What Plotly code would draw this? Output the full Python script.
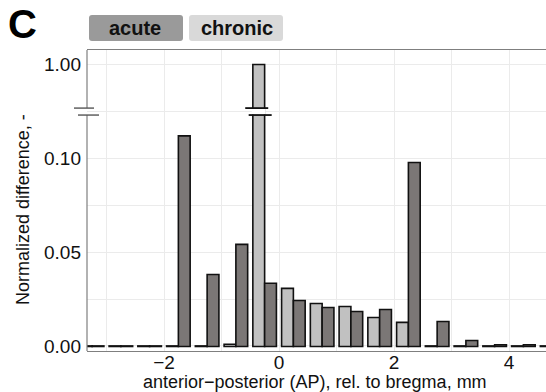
import plotly.graph_objects as go

# ---------------- data ----------------
ap_positions = [-3.25, -2.75, -2.25, -1.75, -1.25, -0.75, -0.25, 0.25, 0.75,
                1.25, 1.75, 2.25, 2.75, 3.25, 3.75, 4.25, 4.75]
acute_values = [0.0, 0.0, 0.0, 0.112, 0.0383, 0.0543, 0.0336, 0.0245, 0.0207,
                0.0186, 0.0197, 0.0979, 0.0133, 0.0032, 0.0009, 0.0009, 0.0]
chronic_values = [0.0, 0.0, 0.0, 0.0, 0.0, 0.0012, 1.00, 0.0309, 0.0229,
                  0.0213, 0.0154, 0.0128, 0.0, 0.0, 0.0, 0.0, 0.0]
series_names = ["acute", "chronic"]
x_tick_vals = [-2, 0, 2, 4]
x_minor_vals = [-3, -1, 1, 3]
y_tick_vals = [0.0, 0.05, 0.10, 1.00]
y_tick_text = ["0.00", "0.05", "0.10", "1.00"]

# ---------------- broken-axis mapping ----------------
BREAK_AT = 0.125          # display position of the axis break
UPPER_VALUE = 1.00        # value shown above the break
UPPER_POS = 0.15          # display position of that value
UPPER_SCALE = 0.1
MIN_VISIBLE = 0.0003      # zero bars still drawn as a flat outline


def to_display(v):
    if v <= BREAK_AT:
        return max(v, MIN_VISIBLE)
    return UPPER_POS + (v - UPPER_VALUE) * UPPER_SCALE


acute_disp = [to_display(v) for v in acute_values]
chronic_disp = [to_display(v) for v in chronic_values]

W, H = 546, 392
ML, MR, MT, MB = 87, 0, 50, 41
PW, PH = W - ML - MR, H - MT - MB
X_RANGE = [-3.339, 4.643]
Y_RANGE = [-0.0024, 0.1577]

BAR_W = 0.205
ACUTE_COLOR = "#7b7776"
CHRONIC_COLOR = "#c1c1c1"
FONT = "Liberation Sans, Arial, sans-serif"
GRID = "#ebebeb"
FRAME = "#7f7f7f"

fig = go.Figure()
fig.add_trace(go.Bar(x=ap_positions, y=chronic_disp, width=BAR_W, offset=-BAR_W,
                     name=series_names[1], marker=dict(color=CHRONIC_COLOR,
                     line=dict(color="#111111", width=1.6)), showlegend=False))
fig.add_trace(go.Bar(x=ap_positions, y=acute_disp, width=BAR_W, offset=0,
                     name=series_names[0], marker=dict(color=ACUTE_COLOR,
                     line=dict(color="#111111", width=1.6)), showlegend=False))


def px_x(p):
    return (p - ML) / PW


def px_y(p):
    return (H - MB - p) / PH


shapes = []
# frame: left axis with a gap at the break
gap_lo, gap_hi = 0.1231, 0.1268
for y0, y1 in [(Y_RANGE[0], gap_lo), (gap_hi, Y_RANGE[1])]:
    shapes.append(dict(type="line", xref="paper", yref="y", x0=0, x1=0, y0=y0, y1=y1,
                       line=dict(color=FRAME, width=1.2)))
# axis break marks
shapes.append(dict(type="line", xref="paper", yref="y", x0=px_x(74), x1=px_x(94),
                   y0=gap_hi, y1=gap_hi, line=dict(color="#555555", width=1.4)))
shapes.append(dict(type="line", xref="paper", yref="y", x0=px_x(78), x1=px_x(99),
                   y0=gap_lo, y1=gap_lo, line=dict(color="#555555", width=1.4)))

# break on bars crossing the break
for xpos, v in zip(ap_positions, chronic_values):
    if v > BREAK_AT:
        cx = xpos - BAR_W / 2
        shapes.append(dict(type="rect", xref="x", yref="y", x0=cx - BAR_W / 2 - 0.02,
                           x1=cx + BAR_W / 2 + 0.02, y0=gap_lo + 0.0003, y1=gap_hi - 0.0003,
                           line=dict(width=0), fillcolor="white"))
        shapes.append(dict(type="line", xref="x", yref="y", x0=cx - 0.235, x1=cx + 0.165,
                           y0=gap_hi, y1=gap_hi, line=dict(color="#111111", width=1.8)))
        shapes.append(dict(type="line", xref="x", yref="y", x0=cx - 0.175, x1=cx + 0.225,
                           y0=gap_lo, y1=gap_lo, line=dict(color="#111111", width=1.8)))
for xpos, v in zip(ap_positions, acute_values):
    if v > BREAK_AT:
        cx = xpos + BAR_W / 2
        shapes.append(dict(type="rect", xref="x", yref="y", x0=cx - BAR_W / 2 - 0.02,
                           x1=cx + BAR_W / 2 + 0.02, y0=gap_lo + 0.0003, y1=gap_hi - 0.0003,
                           line=dict(width=0), fillcolor="white"))


def rounded_box(x0p, y0p, x1p, y1p, r=3):
    # pixel coords (top-left origin) -> paper path with rounded corners
    def P(x, y):
        return f"{px_x(x):.5f},{px_y(y):.5f}"
    return (f"M {P(x0p + r, y0p)} L {P(x1p - r, y0p)} Q {P(x1p, y0p)} {P(x1p, y0p + r)} "
            f"L {P(x1p, y1p - r)} Q {P(x1p, y1p)} {P(x1p - r, y1p)} "
            f"L {P(x0p + r, y1p)} Q {P(x0p, y1p)} {P(x0p, y1p - r)} "
            f"L {P(x0p, y0p + r)} Q {P(x0p, y0p)} {P(x0p + r, y0p)} Z")


shapes.append(dict(type="path", xref="paper", yref="paper", path=rounded_box(89, 15, 183, 41),
                   fillcolor="#9a9a9a", line=dict(width=0)))
shapes.append(dict(type="path", xref="paper", yref="paper", path=rounded_box(189, 15, 283, 41),
                   fillcolor="#d9d9d9", line=dict(width=0)))

annotations = [
    dict(text="<b>C</b>", x=px_x(22), y=px_y(24), xref="paper", yref="paper",
         showarrow=False, font=dict(family=FONT, size=40, color="black"),
         xanchor="center", yanchor="middle"),
    dict(text="<b>acute</b>", x=px_x(135), y=px_y(28), xref="paper", yref="paper",
         showarrow=False, font=dict(family=FONT, size=20, color="#111111"),
         xanchor="center", yanchor="middle"),
    dict(text="<b>chronic</b>", x=px_x(237), y=px_y(28), xref="paper", yref="paper",
         showarrow=False, font=dict(family=FONT, size=20, color="#111111"),
         xanchor="center", yanchor="middle"),
    dict(text="anterior\u2212posterior (AP), rel. to bregma, mm", x=px_x(315), y=px_y(382),
         xref="paper", yref="paper", showarrow=False,
         font=dict(family=FONT, size=18, color="#111111"), xanchor="center", yanchor="middle"),
    dict(text="Normalized difference, -", x=px_x(23), y=px_y(210), xref="paper", yref="paper",
         showarrow=False, textangle=-90, font=dict(family=FONT, size=18, color="#111111"),
         xanchor="center", yanchor="middle"),
]

fig.update_layout(
    width=W, height=H, margin=dict(l=ML, r=MR, t=MT, b=MB, pad=0),
    paper_bgcolor="white", plot_bgcolor="white", barmode="overlay",
    font=dict(family=FONT, size=18, color="#111111"),
    shapes=shapes, annotations=annotations, showlegend=False,
    xaxis=dict(range=X_RANGE, tickmode="array", tickvals=x_tick_vals,
               ticktext=[str(v) if v >= 0 else "\u2212" + str(-v) for v in x_tick_vals],
               showgrid=True, gridcolor=GRID, gridwidth=1, zeroline=False,
               showline=True, mirror=True, linecolor=FRAME, linewidth=1.2,
               ticks="", ticklen=0, ticklabelstandoff=-6,
               tickfont=dict(family=FONT, size=19, color="#111111"),
               minor=dict(tickmode="array", tickvals=x_minor_vals, showgrid=True,
                          gridcolor=GRID, gridwidth=1, ticks="", ticklen=0)),
    yaxis=dict(range=Y_RANGE, tickmode="array",
               tickvals=[to_display(v) for v in y_tick_vals], ticktext=y_tick_text,
               showgrid=True, gridcolor=GRID, gridwidth=1, zeroline=False,
               showline=False, ticks="", ticklen=0, ticklabelstandoff=5,
               tickfont=dict(family=FONT, size=19, color="#111111"),
               minor=dict(tickmode="array", tickvals=[0.025, 0.075, 0.125], showgrid=True,
                          gridcolor=GRID, gridwidth=1, ticks="", ticklen=0)),
)

fig.write_html("out.html")
